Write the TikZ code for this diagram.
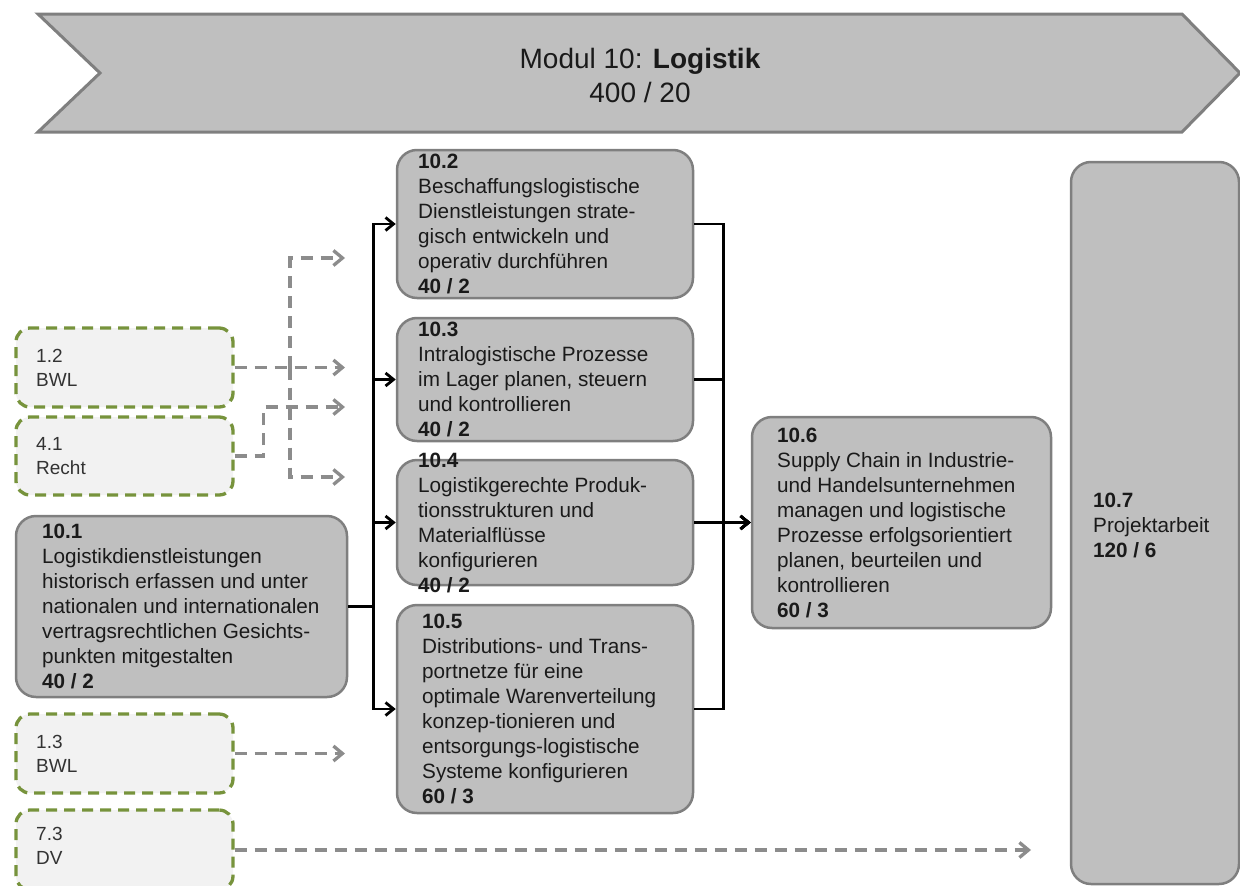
\documentclass[tikz,border=0pt]{standalone}
\usepackage{fontspec}
\setmainfont{Liberation Sans}
\usetikzlibrary{arrows.meta}
\definecolor{boxfill}{HTML}{BFBFBF}
\definecolor{boxline}{HTML}{7F7F7F}
\definecolor{inputfill}{HTML}{F2F2F2}
\definecolor{inputline}{HTML}{77933C}
\definecolor{linkgray}{HTML}{8C8C8C}
\definecolor{inktext}{HTML}{1A1A1A}
\definecolor{softtext}{HTML}{333333}

\begin{document}
\begin{tikzpicture}[x=1pt,y=-1pt,
  modbox/.style={draw=boxline, fill=boxfill, line width=2.5pt, rounded corners=20pt, inner sep=0pt},
  inbox/.style={draw=inputline, fill=inputfill, line width=3.3pt, dash pattern=on 11pt off 7pt, rounded corners=14pt, inner sep=0pt},
  modtext/.style={anchor=west, align=left, inner sep=0pt, text=inktext, font=\fontsize{20.7}{25}\selectfont},
  intext/.style={anchor=west, align=left, inner sep=0pt, text=softtext, font=\fontsize{19}{24}\selectfont},
  flow/.style={line width=2.8pt, -{Straight Barb[length=8pt,width=13pt]}},
  link/.style={draw=linkgray, line width=3.3pt, dash pattern=on 12pt off 8pt, -{Straight Barb[length=9pt,width=15pt]}}
]
\useasboundingbox (0,0) rectangle (1240,886);
\clip (0,0) rectangle (1240,886);

% module banner
\draw[draw=boxline, fill=boxfill, line width=3pt, line join=miter]
  (38,14) -- (1182,14) -- (1240,73) -- (1182,132) -- (38,132) -- (100,73) -- cycle;
\node[font=\fontsize{28}{34}\selectfont, align=center, text=inktext] (title) at (640,75)
  {Modul 10: \textbf{Logistik}\\400 / 20};

% prerequisite modules
\node[inbox, minimum width=217pt, minimum height=79pt] (d12) at (124.5,367.5) {};
\node[inbox, minimum width=217pt, minimum height=78pt] (d41) at (124.5,456) {};
\node[inbox, minimum width=217pt, minimum height=79pt] (d13) at (124.5,753.5) {};
\node[inbox, minimum width=217pt, minimum height=80pt] (d73) at (124.5,850) {};

% sub-modules
\node[modbox, minimum width=331pt, minimum height=181pt] (m1) at (181.5,606.5) {};
\node[modbox, minimum width=296pt, minimum height=148pt] (m2) at (545,224) {};
\node[modbox, minimum width=296pt, minimum height=123pt] (m3) at (545,379.5) {};
\node[modbox, minimum width=296pt, minimum height=125pt] (m4) at (545,522.5) {};
\node[modbox, minimum width=296pt, minimum height=208pt] (m5) at (545,709) {};
\node[modbox, minimum width=299pt, minimum height=211pt] (m6) at (901.5,522.5) {};
\node[modbox, minimum width=168pt, minimum height=722pt] (m7) at (1155,523) {};

% texts of the prerequisite modules
\node[intext] (l12) at (36,367.5) {1.2\\BWL};
\node[intext] (l41) at (36,456) {4.1\\Recht};
\node[intext] (l13) at (36,753.5) {1.3\\BWL};
\node[intext] (l73) at (36,846) {7.3\\DV};

% texts of the sub-modules
\node[modtext] (t1) at (42,606.5) {\textbf{10.1}\\Logistikdienstleistungen\\historisch erfassen und unter\\nationalen und internationalen\\vertragsrechtlichen Gesichts-\\punkten mitgestalten\\\textbf{40 / 2}};
\node[modtext] (t2) at (418,224) {\textbf{10.2}\\Beschaffungslogistische\\Dienstleistungen strate-\\gisch entwickeln und\\operativ durchführen\\\textbf{40 / 2}};
\node[modtext] (t3) at (418,379.5) {\textbf{10.3}\\Intralogistische Prozesse\\im Lager planen, steuern\\und kontrollieren\\\textbf{40 / 2}};
\node[modtext] (t4) at (418,522.5) {\textbf{10.4}\\Logistikgerechte Produk-\\tionsstrukturen und\\Materialflüsse\\konfigurieren\\\textbf{40 / 2}};
\node[modtext] (t5) at (422,709) {\textbf{10.5}\\Distributions- und Trans-\\portnetze für eine\\optimale Warenverteilung\\konzep-tionieren und\\entsorgungs-logistische\\Systeme konfigurieren\\\textbf{60 / 3}};
\node[modtext] (t6) at (777,523) {\textbf{10.6}\\Supply Chain in Industrie-\\und Handelsunternehmen\\managen und logistische\\Prozesse erfolgsorientiert\\planen, beurteilen und\\kontrollieren\\\textbf{60 / 3}};
\node[modtext] (t7) at (1093,525) {\textbf{10.7}\\Projektarbeit\\\textbf{120 / 6}};

% sequence 10.1 -> 10.2..10.5 -> 10.6
\foreach \m in {m2,m3,m4,m5} {
  \draw[flow] (m1.east) -- ++(25,0) |- (\m.west);
  \draw[flow] (\m.east) -- ++(29,0) |- (m6.west);
}

% dashed links from prerequisite modules
\coordinate (j12) at (290,367.5);
\coordinate (a1) at (345,258);
\coordinate (a2) at (345,367.5);
\coordinate (a3) at (345,407);
\coordinate (a4) at (345,477);
\coordinate (a5) at (345,753.5);
\coordinate (a6) at (1031,850);
\draw[link] (d12.east) -- (a2);
\draw[link] (j12) |- (a1);
\draw[link] (j12) |- (a4);
\draw[link] (d41.east) -- ++(29,0) |- (a3);
\draw[link] (d13.east) -- (a5);
\draw[link] (d73.east) -- (a6);
\end{tikzpicture}
\end{document}
